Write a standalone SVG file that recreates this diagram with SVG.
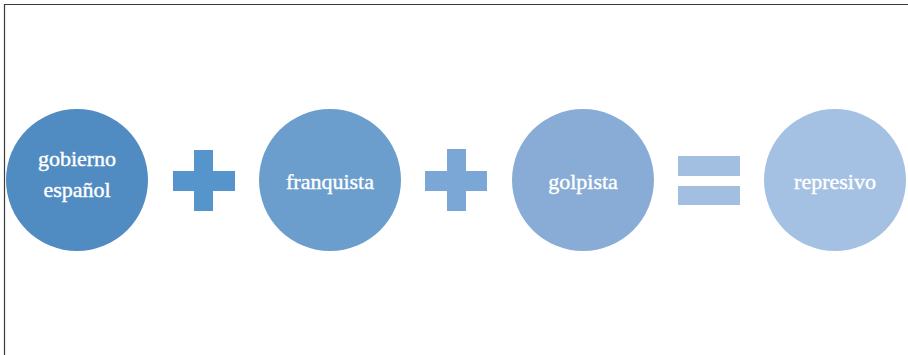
<svg xmlns="http://www.w3.org/2000/svg" width="908" height="355" viewBox="0 0 908 355">
<style>
.lbl{font-family:"Liberation Serif","Times New Roman",serif;font-size:22px;fill:#ffffff;stroke:#ffffff;stroke-width:0.4;text-anchor:middle}
</style>
<rect width="908" height="355" fill="#ffffff"/>
<path d="M4.5 355 V4.5 H908" fill="none" stroke="#3a3a3a" stroke-width="1.2"/>
<g id="node-gobierno">
<circle cx="77" cy="180" r="71" fill="#508bc2"/>
<text class="lbl" x="77" y="166">gobierno</text>
<text class="lbl" x="77" y="197">español</text>
</g>
<g id="op-plus1">
<path d="M194 150 H213 V171 H235 V191 H213 V211 H194 V191 H173 V171 H194 Z" fill="#5694cc"/>
</g>
<g id="node-franquista">
<circle cx="330" cy="180" r="71" fill="#6b9ecd"/>
<text class="lbl" x="330" y="189">franquista</text>
</g>
<g id="op-plus2">
<path d="M447 149 H466 V171 H487 V191 H466 V211 H447 V191 H425 V171 H447 Z" fill="#7aa7d6"/>
</g>
<g id="node-golpista">
<circle cx="583" cy="180" r="71" fill="#88acd6"/>
<text class="lbl" x="583" y="189">golpista</text>
</g>
<g id="op-equals">
<rect x="678" y="156" width="62" height="20" fill="#a2bfe2"/>
<rect x="678" y="186" width="62" height="19" fill="#a2bfe2"/>
</g>
<g id="node-represivo">
<circle cx="835" cy="180" r="71" fill="#a4c1e3"/>
<text class="lbl" x="835" y="189">represivo</text>
</g>
<g id="connectors"/>
</svg>
